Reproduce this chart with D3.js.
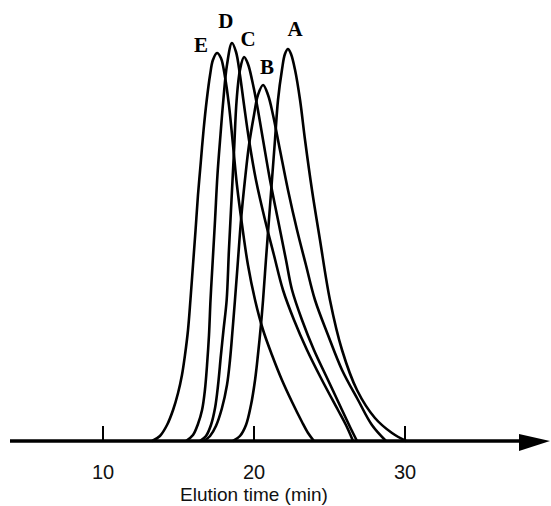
<!DOCTYPE html>
<html>
<head>
<meta charset="utf-8">
<script src="https://cdn.jsdelivr.net/npm/d3@7"></script>
<style>
  html, body { margin: 0; padding: 0; background: #fff; }
  svg { display: block; }
</style>
</head>
<body>
<svg id="chart" width="551" height="506"></svg>
<script>
// ===================================================
// ELUTION PROFILES (A-E)
// values: time (min), detector signal (arb.)
// ===================================================

const seriesNames = ["A", "B", "C", "D", "E"];

const timeA = [18.61, 19.07, 19.47, 19.80, 20.07, 20.26, 20.46, 20.60, 20.79, 20.99, 21.19, 21.39, 21.59, 21.85, 22.05, 22.25,
               22.45, 22.72, 23.05, 23.38, 23.84, 24.37, 25.03, 25.83, 26.82, 28.01, 29.14, 30.07];
const signalA = [0, 1.25, 4, 9, 15.25, 21.5, 29, 35.25, 45.25, 55.25, 65.25, 75.25, 85.25, 92.75, 96.75, 98,
                 96.75, 92.75, 85.25, 75.25, 62.75, 50.25, 35.25, 22.75, 12.75, 5.75, 2, 0];

const timeB = [16.69, 17.09, 17.48, 17.88, 18.21, 18.41, 18.58, 18.74, 18.94, 19.14, 19.40, 19.67, 20.0, 20.26, 20.60,
               20.93, 21.26, 21.72, 22.25, 22.85, 23.44, 24.04, 24.90, 25.83, 26.89, 27.81, 28.74];
const signalB = [0, 1.25, 3.75, 8.25, 14, 20.25, 27.75, 35.25, 45.25, 55.25, 65.25, 74, 81.5, 86.5, 89,
                 86.5, 81.5, 72.75, 62.75, 52.75, 44, 35.25, 26.5, 17.75, 10.25, 4, 0];

const timeC = [16.42, 16.82, 17.15, 17.42, 17.62, 17.81, 17.98, 18.19, 18.34, 18.51, 18.68, 18.85, 19.07, 19.34,
               19.60, 19.87, 20.20, 20.60, 21.06, 21.59, 22.12, 22.52, 23.18, 23.97, 24.90, 25.83, 26.36, 26.82];
const signalC = [0, 1.25, 4, 8.25, 14, 21.5, 27.75, 35.25, 47.75, 60.25, 72.75, 85.25, 92.75, 96,
                 94.25, 90.25, 84, 75.25, 65.25, 55.25, 45.25, 37.75, 30.25, 22.75, 15.25, 7.75, 3.5, 0];

const timeD = [15.50, 15.96, 16.29, 16.56, 16.75, 16.89, 17.02, 17.12, 17.25, 17.42, 17.58, 17.78, 17.97, 18.21, 18.54,
               18.81, 19.07, 19.34, 19.67, 20.13, 20.73, 21.32, 21.92, 22.65, 23.51, 24.50, 25.56, 26.09, 26.56];
const signalD = [0, 1.5, 4.25, 7.75, 12.75, 19, 26.5, 35.25, 44, 55.25, 66.5, 76.5, 85.25, 94, 99.5,
                 97.25, 91.5, 84, 75.25, 65.25, 55.25, 46.5, 37.75, 30.25, 22.75, 15.25, 7.75, 4, 0];

const timeE = [13.25, 13.77, 14.24, 14.64, 14.97, 15.23, 15.43, 15.63, 15.79, 15.96, 16.13, 16.29, 16.46, 16.66, 16.87, 17.09, 17.28, 17.55,
               17.81, 18.08, 18.34, 18.61, 18.87, 19.21, 19.60, 20.07, 20.60, 21.19, 21.85, 22.52, 23.18, 23.58, 23.97];
const signalE = [0, 1.25, 4, 7.75, 12, 16.5, 21.5, 27.75, 35.25, 44, 52.75, 61.5, 69, 77.75, 85.25, 91.5, 95.25, 97,
                 95.75, 91, 84, 74, 64, 54, 44, 35.25, 27.75, 21.5, 15.25, 9.75, 4.75, 2, 0];

const tickValues = [10, 20, 30];
const xLabel = "Elution time (min)";


// Build one list of points per series
const series = [
    { name: "A", t: timeA, s: signalA },
    { name: "B", t: timeB, s: signalB },
    { name: "C", t: timeC, s: signalC },
    { name: "D", t: timeD, s: signalD },
    { name: "E", t: timeE, s: signalE }
].map(d => ({ name: d.name, points: d.t.map((t, i) => ({ t: t, s: d.s[i] })) }));


// Scales -> pixel space of the 551x506 picture
const x = d3.scaleLinear().domain([10, 30]).range([103, 405]);
const y = d3.scaleLinear().domain([0, 100]).range([441, 41]);

const svg = d3.select("#chart");

// Peak curves
const line = d3.line()
    .x(d => x(d.t))
    .y(d => Math.min(y(d.s), y(0)))
    .curve(d3.curveCatmullRom.alpha(0.5));

svg.append("g")
    .selectAll("path")
    .data(series)
    .join("path")
    .attr("d", d => line(d.points))
    .attr("fill", "none")
    .attr("stroke", "#000")
    .attr("stroke-width", 2.6)
    .attr("stroke-linejoin", "round");


// Peak letters (offsets from each peak top, in px)
const labelOffset = {
    A: [7, -13], B: [4, -11], C: [4, -11], D: [-6, -15], E: [-16, -1]
};

svg.append("g")
    .selectAll("text")
    .data(series)
    .join("text")
    .attr("x", d => {
        const top = d3.greatest(d.points, p => p.s);
        return x(top.t) + labelOffset[d.name][0];
    })
    .attr("y", d => {
        const top = d3.greatest(d.points, p => p.s);
        return y(top.s) + labelOffset[d.name][1];
    })
    .attr("text-anchor", "middle")
    .style("font-family", "'Liberation Serif', 'Times New Roman', serif")
    .style("font-weight", "bold")
    .style("font-size", "21px")
    .text(d => d.name);


// AXIS with arrow
const axisY = y(0);

svg.append("line")
    .attr("x1", 10)
    .attr("x2", 522)
    .attr("y1", axisY)
    .attr("y2", axisY)
    .attr("stroke", "#000")
    .attr("stroke-width", 3.5);

svg.append("polygon")
    .attr("points", `519,${axisY - 7} 550,${axisY} 519,${axisY + 10}`)
    .attr("fill", "#000");

// Ticks
svg.append("g")
    .selectAll("line")
    .data(tickValues)
    .join("line")
    .attr("x1", d => x(d))
    .attr("x2", d => x(d))
    .attr("y1", axisY)
    .attr("y2", axisY - 15)
    .attr("stroke", "#000")
    .attr("stroke-width", 2);

// Tick labels
svg.append("g")
    .selectAll("text")
    .data(tickValues)
    .join("text")
    .attr("x", d => x(d))
    .attr("y", 479)
    .attr("text-anchor", "middle")
    .style("font-family", "'Liberation Sans', Arial, sans-serif")
    .style("font-size", "20px")
    .style("fill", "#111")
    .text(d => d);

// Axis title
svg.append("text")
    .attr("x", x(20))
    .attr("y", 501)
    .attr("text-anchor", "middle")
    .style("font-family", "'Liberation Sans', Arial, sans-serif")
    .style("font-size", "19px")
    .style("fill", "#111")
    .text(xLabel);
</script>
</body>
</html>
